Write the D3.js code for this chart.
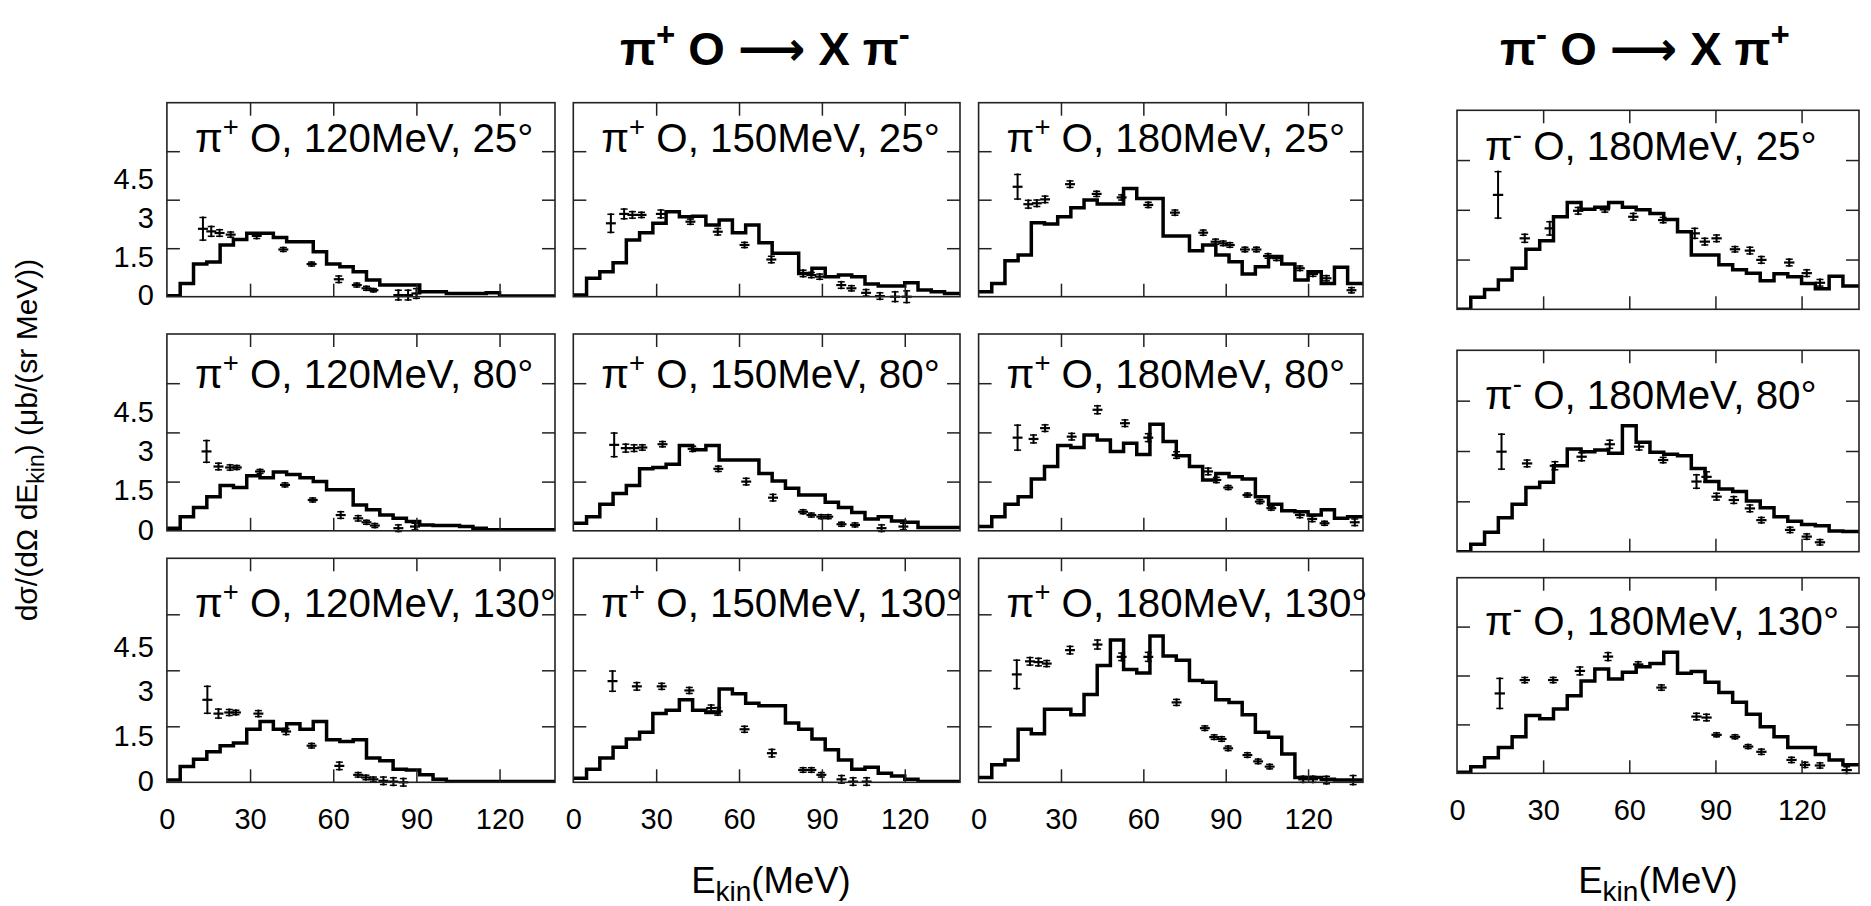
<!DOCTYPE html>
<html><head><meta charset="utf-8">
<script src="https://cdn.jsdelivr.net/npm/d3@7"></script>
<style>
body{margin:0;background:#fff}
svg{display:block}
text{font-family:"Liberation Sans",Arial,Helvetica,sans-serif;fill:#000}
</style>
</head><body>
<svg id="chart" width="1871" height="906"></svg>
<script>
// ---------------- data ----------------
const binWidth = 4.8;            // MeV, width of model histogram bins
const xDomain = [0, 140];
const yDomain = [0, 6];
const xTickValues = [0, 30, 60, 90, 120];
const xTickLabels = ["0", "30", "60", "90", "120"];
const yTickValues = [0, 1.5, 3, 4.5];
const yTickLabels = ["0", "1.5", "3", "4.5"];

const beams = ["+", "+", "+", "-"];
const beamEnergies = ["120MeV", "150MeV", "180MeV", "180MeV"];
const angles = ["25°", "80°", "130°"];

// model histograms (one value per 4.8 MeV bin)
const hist_pip120_25 = [0.03,0.41,1.01,1.07,1.6,1.77,1.96,1.96,1.83,1.70,1.70,1.39,1.01,0.93,0.77,0.52,0.36,0.36,0.36,0.15,0.15,0.1,0.1,0.1,0.12,0.02,0.02,0.02,0.02];
const hist_pip150_25 = [0.05,0.57,0.77,1.05,1.75,1.98,2.27,2.63,2.47,2.49,2.22,2.37,1.98,2.22,1.67,1.34,1.34,0.72,0.88,0.62,0.67,0.62,0.39,0.33,0.33,0.43,0.21,0.15,0.1];
const hist_pip180_25 = [0.15,0.41,1.11,1.29,2.29,2.25,2.47,2.75,2.99,2.87,2.87,3.35,3.04,3.04,1.88,1.88,1.42,1.6,1.29,1.08,0.7,0.93,1.24,1.01,0.52,0.77,0.41,0.91,0.41];
const hist_pim180_25 = [0,0.36,0.6,0.88,1.24,1.81,2.07,2.79,3.22,3.02,3.08,3.22,3.08,3.0,2.89,2.71,2.34,1.64,1.64,1.34,1.19,1.09,0.86,1.07,0.98,0.78,0.62,1.0,0.7];
const hist_pip120_80 = [0.08,0.43,0.71,1.04,1.38,1.32,1.68,1.62,1.79,1.72,1.62,1.5,1.25,1.25,0.79,0.64,0.48,0.38,0.28,0.18,0.16,0.16,0.13,0.08,0.03,0.03,0.03,0.03,0.03];
const hist_pip150_80 = [0.23,0.43,0.81,1.14,1.38,1.89,1.93,2.03,2.6,2.47,2.6,2.16,2.16,2.16,1.75,1.52,1.3,1.09,1.09,0.87,0.71,0.56,0.36,0.43,0.3,0.26,0.1,0.1,0.1];
const hist_pip180_80 = [0.13,0.43,0.81,1.04,1.58,1.96,2.6,2.54,2.92,2.77,2.42,2.67,2.33,3.25,2.72,2.29,1.96,1.55,1.75,1.65,1.58,1.04,0.81,0.61,0.58,0.48,0.64,0.38,0.43];
const hist_pim180_80 = [0,0.22,0.58,1.01,1.41,1.91,2.07,2.56,3.06,2.98,3.03,2.93,3.75,3.26,2.96,2.9,2.86,2.48,2.09,1.87,1.79,1.51,1.31,1.04,0.91,0.81,0.77,0.62,0.6];
const hist_pip120_130 = [0.06,0.42,0.62,0.82,0.98,1.05,1.42,1.63,1.42,1.57,1.42,1.63,1.14,1.09,1.14,0.65,0.58,0.35,0.33,0.2,0.08,0.02,0.02,0.02,0.02,0.02,0.02,0.02,0.02];
const hist_pip150_130 = [0.11,0.35,0.65,0.94,1.16,1.34,1.84,1.93,2.21,1.93,1.87,2.5,2.37,2.12,2.05,2.05,1.59,1.42,1.16,0.87,0.6,0.35,0.4,0.24,0.17,0.08,0.02,0.02,0.02];
const hist_pip180_130 = [0.13,0.47,0.6,1.42,1.3,1.96,1.96,1.81,2.35,3.13,3.81,3.02,2.93,3.92,3.38,3.27,2.73,2.68,2.21,2.14,1.81,1.34,1.21,0.76,0.13,0.13,0.08,0.06,0.06];
const hist_pim180_130 = [0.03,0.2,0.48,0.79,1.12,1.77,1.67,1.97,2.38,2.83,3.2,2.89,3.1,3.27,3.37,3.71,3.07,3.12,2.79,2.48,2.18,1.81,1.43,1.12,0.79,0.79,0.58,0.41,0.26];

// measured points: [E_kin (MeV), cross section, error]
const pts_pip120_25 = [[13,2.1,0.35],[16,2.02,0.15],[19,1.97,0.1],[23,1.92,0.08],[32.4,1.88,0.08],[42,1.46,0.06],[52.2,1.01,0.06],[62,0.54,0.1],[68.5,0.36,0.06],[72,0.26,0.06],[74.5,0.2,0.05],[83.5,0.05,0.15],[87,0.05,0.15],[90,0.1,0.15]];
const pts_pip150_25 = [[13.6,2.27,0.28],[18.4,2.56,0.15],[21.4,2.53,0.1],[24.7,2.53,0.08],[31.7,2.56,0.12],[42.4,2.32,0.08],[52.3,2.01,0.1],[62,1.6,0.08],[71.7,1.15,0.1],[83.2,0.72,0.1],[86.2,0.67,0.08],[89.2,0.62,0.08],[97,0.36,0.1],[100.7,0.26,0.08],[106,0.12,0.1],[111,0.02,0.1],[116.5,0.0,0.15],[120.7,0.0,0.18]];
const pts_pip180_25 = [[14.2,3.4,0.38],[18.1,2.86,0.12],[21.2,2.89,0.1],[24.2,3.01,0.1],[33.3,3.48,0.1],[43,3.18,0.08],[52.1,3.07,0.08],[61.8,2.84,0.08],[71.5,2.6,0.08],[81.8,1.98,0.08],[86.3,1.7,0.08],[89.1,1.65,0.07],[91.5,1.6,0.07],[97,1.46,0.07],[101.2,1.46,0.07],[105.4,1.26,0.07],[108.5,1.19,0.07],[117,0.88,0.07],[121.8,0.7,0.07],[126.7,0.57,0.08],[135.8,0.2,0.08]];
const pts_pim180_25 = [[14.3,3.45,0.7],[23.6,2.14,0.12],[32.3,2.44,0.2],[42.2,2.97,0.1],[51.5,3.01,0.08],[61.4,2.79,0.1],[71.8,2.69,0.08],[82.8,2.29,0.15],[86.3,2.04,0.1],[90.4,2.14,0.1],[96.8,1.81,0.08],[102,1.77,0.1],[106,1.49,0.1],[115.7,1.41,0.1],[121.8,1.09,0.1],[126.4,0.8,0.1]];
const pts_pip120_80 = [[14.3,2.42,0.33],[18.6,1.96,0.1],[22.8,1.93,0.08],[25.2,1.93,0.06],[33.6,1.81,0.06],[42.6,1.4,0.06],[52.6,0.94,0.06],[62.7,0.48,0.1],[69,0.38,0.08],[72,0.26,0.06],[75,0.16,0.06],[83.5,0.08,0.1],[89.5,0.13,0.1]];
const pts_pip150_80 = [[14.8,2.62,0.36],[19,2.52,0.12],[22,2.52,0.1],[25,2.54,0.08],[32.3,2.64,0.08],[43.2,2.5,0.08],[52.5,1.89,0.08],[62.6,1.5,0.1],[72.3,1.01,0.1],[83.2,0.58,0.06],[86.2,0.48,0.06],[89.8,0.43,0.06],[92.3,0.43,0.06],[97.1,0.2,0.06],[102,0.18,0.06],[111.6,0.08,0.1],[119.5,0.13,0.1]];
const pts_pip180_80 = [[14.2,2.84,0.38],[20,2.8,0.12],[24.2,3.13,0.1],[33.9,2.87,0.1],[43.3,3.69,0.12],[53.3,3.28,0.1],[61.8,2.84,0.12],[72.1,2.31,0.1],[83.6,1.81,0.1],[86.6,1.55,0.08],[90.9,1.32,0.06],[97.9,1.09,0.06],[102.4,0.89,0.06],[106.6,0.69,0.06],[117,0.48,0.08],[121.5,0.36,0.08],[126,0.23,0.06],[137,0.26,0.1]];
const pts_pim180_80 = [[15.5,2.98,0.52],[24.4,2.63,0.1],[34.1,2.56,0.12],[43.4,2.83,0.12],[53.2,3.2,0.12],[63.4,3.13,0.1],[71.8,2.73,0.08],[83.4,2.09,0.2],[86.9,2.23,0.15],[90.4,1.64,0.1],[96.4,1.54,0.1],[102,1.29,0.1],[106,0.94,0.08],[116,0.65,0.08],[121.8,0.45,0.08],[126.4,0.28,0.08]];
const pts_pip120_130 = [[14.6,2.21,0.36],[18.6,1.84,0.12],[22.5,1.87,0.08],[24.9,1.87,0.06],[33,1.84,0.08],[43,1.36,0.08],[52.2,0.98,0.06],[62.2,0.44,0.1],[69,0.2,0.06],[71.8,0.13,0.06],[74.5,0.08,0.06],[78.1,0.04,0.1],[81.7,0.02,0.1],[85.3,0.0,0.1]];
const pts_pip150_130 = [[14.2,2.71,0.27],[23,2.57,0.1],[32,2.57,0.08],[42,2.46,0.08],[49.9,1.99,0.08],[52.3,1.9,0.1],[62,1.42,0.08],[71.9,0.78,0.1],[83.2,0.33,0.06],[86.2,0.33,0.06],[89.8,0.2,0.06],[97.1,0.08,0.1],[101.3,0.02,0.1],[106.2,0.02,0.1]];
const pts_pip180_130 = [[13.9,2.89,0.38],[18.7,3.24,0.1],[21.8,3.22,0.1],[24.8,3.18,0.08],[33.3,3.54,0.1],[43.3,3.69,0.12],[52.1,3.36,0.1],[61.8,3.36,0.12],[72.1,2.14,0.08],[82.4,1.45,0.06],[85.8,1.21,0.06],[88.5,1.16,0.06],[90.9,0.91,0.06],[97.9,0.73,0.06],[101.8,0.56,0.06],[106,0.42,0.06],[118.2,0.08,0.08],[121.8,0.08,0.08],[126.7,0.06,0.1],[136.4,0.06,0.12]];
const pts_pim180_130 = [[14.9,2.45,0.46],[23.6,2.86,0.08],[33.5,2.86,0.08],[42.8,3.14,0.12],[52.6,3.58,0.12],[63.1,3.34,0.08],[71.2,2.63,0.08],[83.4,1.74,0.1],[86.9,1.71,0.1],[90.4,1.18,0.06],[96.8,1.12,0.06],[101.4,0.82,0.06],[106,0.66,0.08],[116.5,0.41,0.08],[121.2,0.26,0.08],[126.4,0.24,0.08],[135.7,0.1,0.1]];

const histograms = [
  [hist_pip120_25, hist_pip150_25, hist_pip180_25, hist_pim180_25],
  [hist_pip120_80, hist_pip150_80, hist_pip180_80, hist_pim180_80],
  [hist_pip120_130, hist_pip150_130, hist_pip180_130, hist_pim180_130]
];
const points = [
  [pts_pip120_25, pts_pip150_25, pts_pip180_25, pts_pim180_25],
  [pts_pip120_80, pts_pip150_80, pts_pip180_80, pts_pim180_80],
  [pts_pip120_130, pts_pip150_130, pts_pip180_130, pts_pim180_130]
];

// ---------------- layout ----------------
const colX = [[166.9, 555], [573.3, 960], [978.6, 1363], [1457, 1859]];
const rowY = [[102.7, 296.7], [334, 530.8], [558.3, 782.3]];
const rowY4 = [[110.3, 309.3], [350.3, 551.7], [577.7, 773.3]];
const labelShift = [[1, 1, 1, 0], [5, 5, 5, 8], [3, 3, 3, 8]];
const tickLen = 13;
const labelFont = 40.3;
const tickFont = 29;
const yLabelSpread = 0.8;   // tick labels in the original sit on a compressed scale

const svg = d3.select("#chart");

for (let r = 0; r < 3; r++) {
  for (let c = 0; c < 4; c++) {
    const [x0, x1] = colX[c];
    const [y0, y1] = c < 3 ? rowY[r] : rowY4[r];
    const x = d3.scaleLinear().domain(xDomain).range([x0, x1]);
    const y = d3.scaleLinear().domain(yDomain).range([y1, y0]);
    const g = svg.append("g");
    const clipId = `clip${r}${c}`;
    g.append("clipPath").attr("id", clipId).append("rect")
      .attr("x", x0).attr("y", y0).attr("width", x1 - x0).attr("height", y1 - y0);

    // histogram (step line)
    const h = histograms[r][c];
    const stepPts = h.map((v, i) => [i * binWidth, v]);
    stepPts.push([xDomain[1], h[h.length - 1]]);
    const line = d3.line().x(d => x(d[0])).y(d => y(d[1])).curve(d3.curveStepAfter);
    g.append("path").attr("d", line(stepPts)).attr("fill", "none")
      .attr("stroke", "#000").attr("stroke-width", 3.5).attr("stroke-linejoin", "miter")
      .attr("clip-path", `url(#${clipId})`);

    // data points with error bars
    const pg = g.append("g").attr("stroke", "#000").attr("stroke-width", 2).attr("fill", "none");
    points[r][c].forEach(([e, v, err]) => {
      const cx = x(e), cy = y(v);
      const ya = y(v - err), yb = y(v + err);
      pg.append("line").attr("x1", cx).attr("x2", cx).attr("y1", ya + 1).attr("y2", yb - 1);
      pg.append("line").attr("x1", cx - 3.5).attr("x2", cx + 3.5).attr("y1", ya).attr("y2", ya).attr("stroke-width", 1.5);
      pg.append("line").attr("x1", cx - 3.5).attr("x2", cx + 3.5).attr("y1", yb).attr("y2", yb).attr("stroke-width", 1.5);
      pg.append("line").attr("x1", x(e - 1.8)).attr("x2", x(e + 1.8)).attr("y1", cy).attr("y2", cy).attr("stroke-width", 2.2);
    });

    // frame with ticks on all sides
    g.append("rect").attr("x", x0).attr("y", y0).attr("width", x1 - x0).attr("height", y1 - y0)
      .attr("fill", "none").attr("stroke", "#222").attr("stroke-width", 1.6);
    const axB = d3.axisBottom(x).tickValues(xTickValues.slice(1)).tickSize(-tickLen).tickFormat("");
    const axT = d3.axisTop(x).tickValues(xTickValues.slice(1)).tickSize(-tickLen).tickFormat("");
    const axL = d3.axisLeft(y).tickValues(yTickValues.slice(1)).tickSize(-tickLen).tickFormat("");
    const axR = d3.axisRight(y).tickValues(yTickValues.slice(1)).tickSize(-tickLen).tickFormat("");
    [[axB, `translate(0,${y1})`], [axT, `translate(0,${y0})`], [axL, `translate(${x0},0)`], [axR, `translate(${x1},0)`]]
      .forEach(([ax, tr]) => {
        const a = g.append("g").attr("transform", tr).call(ax);
        a.select(".domain").remove();
        a.selectAll("line").attr("stroke", "#222").attr("stroke-width", 1.5);
      });

    // y tick labels (first column only)
    if (c === 0) {
      const yLab = d3.scaleLinear().domain(yDomain).range([y1 - 1, y1 - 1 - (y1 - y0) * yLabelSpread]);
      const yl = g.append("g").attr("transform", `translate(${x0},0)`)
        .call(d3.axisLeft(yLab).tickValues(yTickValues).tickSize(0).tickPadding(13)
          .tickFormat((d, i) => yTickLabels[i]));
      yl.select(".domain").remove();
      yl.selectAll("text").attr("font-size", tickFont).attr("font-family", "Liberation Sans, Arial, sans-serif").attr("fill", "#000");
    }
    // x tick labels (bottom row)
    if (r === 2) {
      const xl = g.append("g").attr("transform", `translate(0,${y1})`)
        .call(d3.axisBottom(x).tickValues(xTickValues).tickSize(0).tickPadding(26)
          .tickFormat((d, i) => xTickLabels[i]));
      xl.select(".domain").remove();
      xl.selectAll("text").attr("font-size", tickFont).attr("font-family", "Liberation Sans, Arial, sans-serif").attr("fill", "#000");
    }

    // panel label
    const t = g.append("text").attr("x", x0 + 28).attr("y", y(4.5) + labelShift[r][c]).attr("font-size", labelFont);
    t.append("tspan").text("π");
    t.append("tspan").attr("dy", -labelFont * 0.4).attr("font-size", labelFont * 0.68).text(beams[c] === "+" ? "+" : "-");
    t.append("tspan").attr("dy", labelFont * 0.4).text(` O, ${beamEnergies[c]}, ${angles[r]}`);
  }
}

// column titles
function title(cx, signA, signB) {
  const t = svg.append("text").attr("x", cx).attr("y", 65).attr("text-anchor", "middle")
    .attr("font-size", 47).attr("font-weight", "bold");
  t.append("tspan").text("π");
  t.append("tspan").attr("dy", -19).attr("font-size", 33).text(signA);
  t.append("tspan").attr("dy", 19).text("  O ");
  t.append("tspan").attr("font-family", "DejaVu Sans").text("⟶");
  t.append("tspan").text(" X  π");
  t.append("tspan").attr("dy", -19).attr("font-size", 33).text(signB);
}
title((colX[0][0] + colX[2][1]) / 2, "+", "-");
title(1645, "-", "+");

// axis titles
function xTitle(cx) {
  const t = svg.append("text").attr("x", cx).attr("y", 893).attr("text-anchor", "middle").attr("font-size", 36.5);
  t.append("tspan").text("E");
  t.append("tspan").attr("dy", 8).attr("font-size", 28).text("kin");
  t.append("tspan").attr("dy", -8).text("(MeV)");
}
xTitle((colX[0][0] + colX[2][1]) / 2 + 6);
xTitle((colX[3][0] + colX[3][1]) / 2);

const yt = svg.append("text").attr("transform", "translate(37,440) rotate(-90)")
  .attr("text-anchor", "middle").attr("font-size", 30);
yt.append("tspan").text("dσ/(dΩ dE");
yt.append("tspan").attr("dy", 7).attr("font-size", 23).text("kin");
yt.append("tspan").attr("dy", -7).text(") (μb/(sr MeV))");
</script>
</body></html>
